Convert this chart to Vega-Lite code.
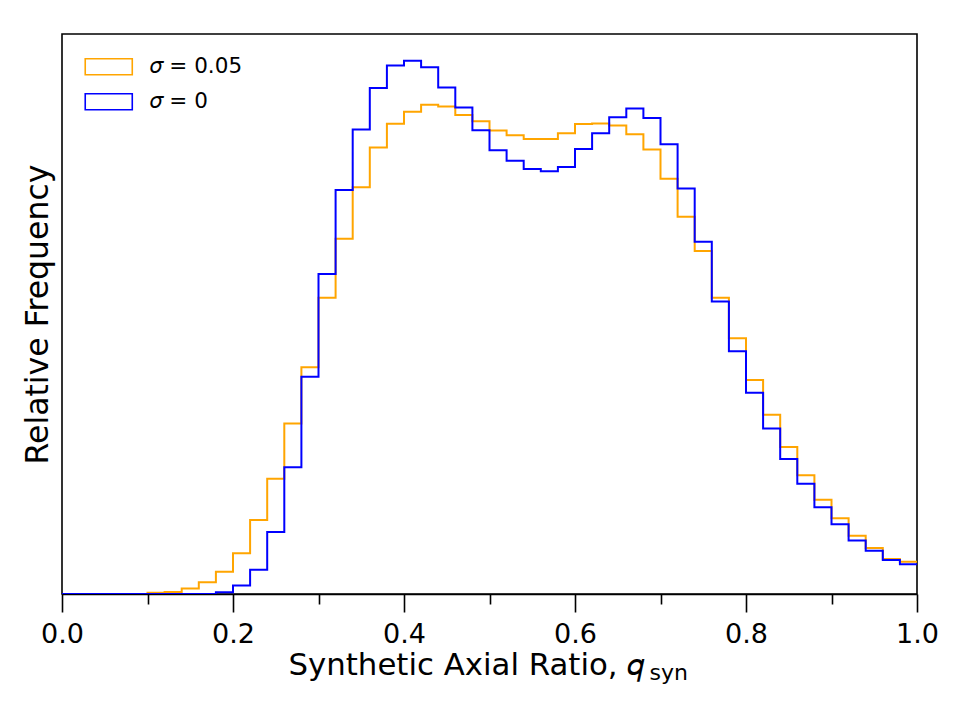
{
  "$schema": "https://vega.github.io/schema/vega-lite/v6.json",
  "autosize": {"type": "none"},
  "width": 855,
  "height": 560,
  "padding": {"left": 62, "top": 34, "right": 44, "bottom": 125},
  "background": "white",
  "config": {
    "font": "DejaVu Sans",
    "view": {"stroke": "black", "strokeWidth": 1.6},
    "axis": {"grid": false, "zindex": 1}
  },
  "data": {
    "values": [
      {"q": 0.00, "density": 0, "series": "𝜎 = 0.05"},
      {"q": 0.02, "density": 0, "series": "𝜎 = 0.05"},
      {"q": 0.04, "density": 0, "series": "𝜎 = 0.05"},
      {"q": 0.06, "density": 0, "series": "𝜎 = 0.05"},
      {"q": 0.08, "density": 0, "series": "𝜎 = 0.05"},
      {"q": 0.10, "density": 0.005, "series": "𝜎 = 0.05"},
      {"q": 0.12, "density": 0.008, "series": "𝜎 = 0.05"},
      {"q": 0.14, "density": 0.022, "series": "𝜎 = 0.05"},
      {"q": 0.16, "density": 0.048, "series": "𝜎 = 0.05"},
      {"q": 0.18, "density": 0.090, "series": "𝜎 = 0.05"},
      {"q": 0.20, "density": 0.165, "series": "𝜎 = 0.05"},
      {"q": 0.22, "density": 0.300, "series": "𝜎 = 0.05"},
      {"q": 0.24, "density": 0.467, "series": "𝜎 = 0.05"},
      {"q": 0.26, "density": 0.691, "series": "𝜎 = 0.05"},
      {"q": 0.28, "density": 0.918, "series": "𝜎 = 0.05"},
      {"q": 0.30, "density": 1.200, "series": "𝜎 = 0.05"},
      {"q": 0.32, "density": 1.439, "series": "𝜎 = 0.05"},
      {"q": 0.34, "density": 1.647, "series": "𝜎 = 0.05"},
      {"q": 0.36, "density": 1.808, "series": "𝜎 = 0.05"},
      {"q": 0.38, "density": 1.905, "series": "𝜎 = 0.05"},
      {"q": 0.40, "density": 1.953, "series": "𝜎 = 0.05"},
      {"q": 0.42, "density": 1.981, "series": "𝜎 = 0.05"},
      {"q": 0.44, "density": 1.974, "series": "𝜎 = 0.05"},
      {"q": 0.46, "density": 1.940, "series": "𝜎 = 0.05"},
      {"q": 0.48, "density": 1.915, "series": "𝜎 = 0.05"},
      {"q": 0.50, "density": 1.877, "series": "𝜎 = 0.05"},
      {"q": 0.52, "density": 1.858, "series": "𝜎 = 0.05"},
      {"q": 0.54, "density": 1.843, "series": "𝜎 = 0.05"},
      {"q": 0.56, "density": 1.843, "series": "𝜎 = 0.05"},
      {"q": 0.58, "density": 1.866, "series": "𝜎 = 0.05"},
      {"q": 0.60, "density": 1.904, "series": "𝜎 = 0.05"},
      {"q": 0.62, "density": 1.906, "series": "𝜎 = 0.05"},
      {"q": 0.64, "density": 1.897, "series": "𝜎 = 0.05"},
      {"q": 0.66, "density": 1.862, "series": "𝜎 = 0.05"},
      {"q": 0.68, "density": 1.800, "series": "𝜎 = 0.05"},
      {"q": 0.70, "density": 1.682, "series": "𝜎 = 0.05"},
      {"q": 0.72, "density": 1.528, "series": "𝜎 = 0.05"},
      {"q": 0.74, "density": 1.389, "series": "𝜎 = 0.05"},
      {"q": 0.76, "density": 1.200, "series": "𝜎 = 0.05"},
      {"q": 0.78, "density": 1.036, "series": "𝜎 = 0.05"},
      {"q": 0.80, "density": 0.867, "series": "𝜎 = 0.05"},
      {"q": 0.82, "density": 0.726, "series": "𝜎 = 0.05"},
      {"q": 0.84, "density": 0.595, "series": "𝜎 = 0.05"},
      {"q": 0.86, "density": 0.481, "series": "𝜎 = 0.05"},
      {"q": 0.88, "density": 0.382, "series": "𝜎 = 0.05"},
      {"q": 0.90, "density": 0.307, "series": "𝜎 = 0.05"},
      {"q": 0.92, "density": 0.236, "series": "𝜎 = 0.05"},
      {"q": 0.94, "density": 0.186, "series": "𝜎 = 0.05"},
      {"q": 0.96, "density": 0.142, "series": "𝜎 = 0.05"},
      {"q": 0.98, "density": 0.131, "series": "𝜎 = 0.05"},
      {"q": 1.00, "density": 0.131, "series": "𝜎 = 0.05"},
      {"q": 0.00, "density": 0, "series": "𝜎 = 0"},
      {"q": 0.02, "density": 0, "series": "𝜎 = 0"},
      {"q": 0.04, "density": 0, "series": "𝜎 = 0"},
      {"q": 0.06, "density": 0, "series": "𝜎 = 0"},
      {"q": 0.08, "density": 0, "series": "𝜎 = 0"},
      {"q": 0.10, "density": 0, "series": "𝜎 = 0"},
      {"q": 0.12, "density": 0, "series": "𝜎 = 0"},
      {"q": 0.14, "density": 0, "series": "𝜎 = 0"},
      {"q": 0.16, "density": 0, "series": "𝜎 = 0"},
      {"q": 0.18, "density": 0.007, "series": "𝜎 = 0"},
      {"q": 0.20, "density": 0.034, "series": "𝜎 = 0"},
      {"q": 0.22, "density": 0.098, "series": "𝜎 = 0"},
      {"q": 0.24, "density": 0.251, "series": "𝜎 = 0"},
      {"q": 0.26, "density": 0.513, "series": "𝜎 = 0"},
      {"q": 0.28, "density": 0.880, "series": "𝜎 = 0"},
      {"q": 0.30, "density": 1.296, "series": "𝜎 = 0"},
      {"q": 0.32, "density": 1.636, "series": "𝜎 = 0"},
      {"q": 0.34, "density": 1.881, "series": "𝜎 = 0"},
      {"q": 0.36, "density": 2.049, "series": "𝜎 = 0"},
      {"q": 0.38, "density": 2.140, "series": "𝜎 = 0"},
      {"q": 0.40, "density": 2.160, "series": "𝜎 = 0"},
      {"q": 0.42, "density": 2.133, "series": "𝜎 = 0"},
      {"q": 0.44, "density": 2.051, "series": "𝜎 = 0"},
      {"q": 0.46, "density": 1.970, "series": "𝜎 = 0"},
      {"q": 0.48, "density": 1.878, "series": "𝜎 = 0"},
      {"q": 0.50, "density": 1.797, "series": "𝜎 = 0"},
      {"q": 0.52, "density": 1.755, "series": "𝜎 = 0"},
      {"q": 0.54, "density": 1.721, "series": "𝜎 = 0"},
      {"q": 0.56, "density": 1.712, "series": "𝜎 = 0"},
      {"q": 0.58, "density": 1.729, "series": "𝜎 = 0"},
      {"q": 0.60, "density": 1.802, "series": "𝜎 = 0"},
      {"q": 0.62, "density": 1.866, "series": "𝜎 = 0"},
      {"q": 0.64, "density": 1.931, "series": "𝜎 = 0"},
      {"q": 0.66, "density": 1.966, "series": "𝜎 = 0"},
      {"q": 0.68, "density": 1.928, "series": "𝜎 = 0"},
      {"q": 0.70, "density": 1.821, "series": "𝜎 = 0"},
      {"q": 0.72, "density": 1.642, "series": "𝜎 = 0"},
      {"q": 0.74, "density": 1.427, "series": "𝜎 = 0"},
      {"q": 0.76, "density": 1.185, "series": "𝜎 = 0"},
      {"q": 0.78, "density": 0.983, "series": "𝜎 = 0"},
      {"q": 0.80, "density": 0.815, "series": "𝜎 = 0"},
      {"q": 0.82, "density": 0.670, "series": "𝜎 = 0"},
      {"q": 0.84, "density": 0.547, "series": "𝜎 = 0"},
      {"q": 0.86, "density": 0.447, "series": "𝜎 = 0"},
      {"q": 0.88, "density": 0.351, "series": "𝜎 = 0"},
      {"q": 0.90, "density": 0.282, "series": "𝜎 = 0"},
      {"q": 0.92, "density": 0.217, "series": "𝜎 = 0"},
      {"q": 0.94, "density": 0.175, "series": "𝜎 = 0"},
      {"q": 0.96, "density": 0.138, "series": "𝜎 = 0"},
      {"q": 0.98, "density": 0.120, "series": "𝜎 = 0"},
      {"q": 1.00, "density": 0.120, "series": "𝜎 = 0"}
    ]
  },
  "encoding": {
    "y": {
      "field": "density",
      "type": "quantitative",
      "scale": {"domain": [0, 2.268], "nice": false, "zero": true},
      "axis": {
        "title": "Relative Frequency",
        "titleFont": "DejaVu Sans",
        "titleFontSize": 31.5,
        "titleFontWeight": "normal",
        "titleColor": "black",
        "titleX": -14.5,
        "titleY": 280,
        "titleAngle": -90,
        "titleAlign": "center",
        "titleBaseline": "alphabetic",
        "labels": false,
        "ticks": false,
        "domain": false
      }
    },
    "color": {
      "field": "series",
      "type": "nominal",
      "scale": {"domain": ["𝜎 = 0.05", "𝜎 = 0"], "range": ["#FFA500", "#0000FF"]},
      "legend": {
        "title": null,
        "orient": "none",
        "legendX": 36,
        "legendY": 22,
        "padding": 0,
        "symbolType": "M-2.94,-1H2.94V1H-2.94Z",
        "symbolSize": 256,
        "symbolStrokeWidth": 1.6,
        "symbolFillColor": "transparent",
        "labelFont": "DejaVu Sans",
        "labelFontSize": 21.5,
        "labelColor": "black",
        "labelOffset": 30,
        "rowPadding": 12
      }
    }
  },
  "layer": [
    {
      "transform": [{"filter": "datum.series === '𝜎 = 0.05'"}],
      "mark": {"type": "line", "interpolate": "step-after", "strokeWidth": 2, "clip": true},
      "encoding": {
        "x": {
          "field": "q",
          "type": "quantitative",
          "scale": {"domain": [0, 1], "nice": false},
          "axis": {
            "orient": "bottom",
            "values": [0, 0.2, 0.4, 0.6, 0.8, 1.0],
            "format": ".1f",
            "tickSize": 18,
            "tickWidth": 1.6,
            "tickColor": "black",
            "domainColor": "black",
            "domainWidth": 1.6,
            "labelFont": "DejaVu Sans",
            "labelFontSize": 27,
            "labelColor": "black",
            "labelBaseline": "alphabetic",
            "labelPadding": 30,
            "labelFlush": false,
            "labelOverlap": false,
            "title": "Synthetic Axial Ratio, 𝑞",
            "titleFont": "DejaVu Sans",
            "titleFontSize": 30.8,
            "titleFontWeight": "normal",
            "titleColor": "black",
            "titleAlign": "left",
            "titleAnchor": "start",
            "titleBaseline": "alphabetic",
            "titleX": 226,
            "titleY": 80
          }
        }
      }
    },
    {
      "transform": [{"filter": "datum.series === '𝜎 = 0'"}],
      "mark": {"type": "line", "interpolate": "step-after", "strokeWidth": 2, "clip": true},
      "encoding": {
        "x": {
          "field": "q",
          "type": "quantitative",
          "scale": {"domain": [0, 1], "nice": false},
          "axis": {
            "orient": "bottom",
            "values": [0.1, 0.3, 0.5, 0.7, 0.9],
            "tickSize": 10,
            "tickWidth": 1.6,
            "tickColor": "black",
            "labels": false,
            "domain": false,
            "title": "syn",
            "titleFont": "DejaVu Sans",
            "titleFontSize": 22,
            "titleFontWeight": "normal",
            "titleColor": "black",
            "titleAlign": "left",
            "titleAnchor": "start",
            "titleBaseline": "alphabetic",
            "titleX": 587,
            "titleY": 85
          }
        }
      }
    }
  ],
  "resolve": {"axis": {"x": "independent"}}
}
